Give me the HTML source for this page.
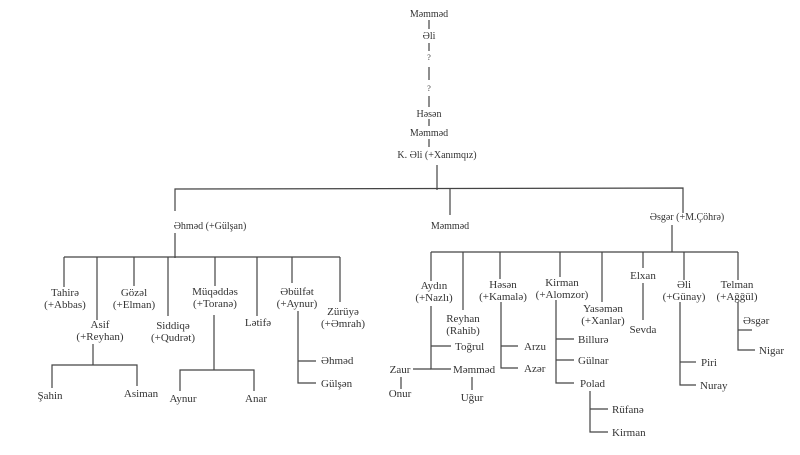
<!DOCTYPE html>
<html><head><meta charset="utf-8"><style>
html,body{margin:0;padding:0;background:#fff;}
svg{display:block}
text{font-family:"Liberation Serif","DejaVu Serif",serif;font-size:11px;fill:#333;}
.m{text-anchor:middle}
line,polyline{stroke:#444;stroke-width:1.2;fill:none}
</style></head><body>
<svg width="800" height="455" viewBox="0 0 800 455" xmlns="http://www.w3.org/2000/svg">
<!-- top chain -->
<text x="429" y="17" class="m" style="font-size:10px">Məmməd</text>
<line x1="429" y1="20" x2="429" y2="29"/>
<text x="429" y="39" class="m" style="font-size:10px">Əli</text>
<line x1="429" y1="43" x2="429" y2="51"/>
<text x="429" y="60" class="m" style="font-size:8px">?</text>
<line x1="429" y1="67" x2="429" y2="80"/>
<text x="429" y="91" class="m" style="font-size:8px">?</text>
<line x1="429" y1="96" x2="429" y2="107"/>
<text x="429" y="117" class="m" style="font-size:10px">Həsən</text>
<line x1="429" y1="119" x2="429" y2="126"/>
<text x="429" y="136" class="m" style="font-size:10px">Məmməd</text>
<line x1="429" y1="139" x2="429" y2="147"/>
<text x="437" y="158" class="m" style="font-size:10px">K. Əli (+Xanımqız)</text>
<line x1="437" y1="165" x2="437" y2="190"/>
<polyline points="175,211 175,189 683,188 683,213"/>
<line x1="450" y1="189" x2="450" y2="215"/>
<text x="210" y="229" class="m" style="font-size:10px">Əhməd (+Gülşan)</text>
<text x="450" y="229" class="m" style="font-size:10px">Məmməd</text>
<text x="687" y="220" class="m" style="font-size:10px">Əsgər (+M.Çöhrə)</text>
<!-- left group -->
<line x1="175" y1="233" x2="175" y2="258"/>
<line x1="64" y1="257" x2="340" y2="257"/>
<line x1="64" y1="257" x2="64" y2="287"/>
<line x1="97" y1="257" x2="97" y2="320"/>
<line x1="134" y1="257" x2="134" y2="286"/>
<line x1="168" y1="257" x2="168" y2="316"/>
<line x1="215" y1="257" x2="215" y2="286"/>
<line x1="257" y1="257" x2="257" y2="316"/>
<line x1="292" y1="257" x2="292" y2="283"/>
<line x1="340" y1="257" x2="340" y2="302"/>
<text x="65" y="296" class="m">Tahirə</text><text x="65" y="308" class="m">(+Abbas)</text>
<text x="100" y="328" class="m">Asif</text><text x="100" y="340" class="m">(+Reyhan)</text>
<text x="134" y="296" class="m">Gözəl</text><text x="134" y="308" class="m">(+Elman)</text>
<text x="173" y="329" class="m">Siddiqə</text><text x="173" y="341" class="m">(+Qudrət)</text>
<text x="215" y="295" class="m">Müqəddəs</text><text x="215" y="307" class="m">(+Toranə)</text>
<text x="258" y="326" class="m">Lətifə</text>
<text x="297" y="295" class="m">Əbülfət</text><text x="297" y="307" class="m">(+Aynur)</text>
<text x="343" y="315" class="m">Zürüyə</text><text x="343" y="327" class="m">(+Əmrah)</text>
<line x1="93" y1="344" x2="93" y2="365"/>
<polyline points="52,388 52,365 137,365 137,386"/>
<text x="50" y="399" class="m">Şahin</text><text x="141" y="397" class="m">Asiman</text>
<line x1="214" y1="315" x2="214" y2="370"/>
<polyline points="180,391 180,370 254,370 254,391"/>
<text x="183" y="402" class="m">Aynur</text><text x="256" y="402" class="m">Anar</text>
<polyline points="298,311 298,383 316,383"/>
<line x1="298" y1="361" x2="316" y2="361"/>
<text x="321" y="364">Əhməd</text><text x="321" y="387">Gülşən</text>
<!-- right group -->
<line x1="672" y1="225" x2="672" y2="252"/>
<line x1="431" y1="252" x2="738" y2="252"/>
<line x1="431" y1="252" x2="431" y2="281"/>
<line x1="463" y1="252" x2="463" y2="310"/>
<line x1="500" y1="252" x2="500" y2="279"/>
<line x1="560" y1="252" x2="560" y2="277"/>
<line x1="602" y1="252" x2="602" y2="302"/>
<line x1="643" y1="252" x2="643" y2="268"/>
<line x1="684" y1="252" x2="684" y2="280"/>
<line x1="738" y1="252" x2="738" y2="280"/>
<text x="434" y="289" class="m">Aydın</text><text x="434" y="301" class="m">(+Nazlı)</text>
<text x="463" y="322" class="m">Reyhan</text><text x="463" y="334" class="m">(Rahib)</text>
<text x="503" y="288" class="m">Həsən</text><text x="503" y="300" class="m">(+Kamalə)</text>
<text x="562" y="286" class="m">Kirman</text><text x="562" y="298" class="m">(+Alomzor)</text>
<text x="603" y="312" class="m">Yasəmən</text><text x="603" y="324" class="m">(+Xanlar)</text>
<text x="643" y="279" class="m">Elxan</text>
<text x="684" y="288" class="m">Əli</text><text x="684" y="300" class="m">(+Günay)</text>
<text x="737" y="288" class="m">Telman</text><text x="737" y="300" class="m">(+Ağğül)</text>
<polyline points="431,306 431,369 451,369"/>
<line x1="431" y1="346" x2="451" y2="346"/>
<line x1="413" y1="369" x2="431" y2="369"/>
<text x="455" y="350">Toğrul</text><text x="453" y="373">Məmməd</text>
<text x="400" y="373" class="m">Zaur</text>
<line x1="401" y1="377" x2="401" y2="389"/>
<text x="400" y="397" class="m">Onur</text>
<line x1="472" y1="377" x2="472" y2="390"/>
<text x="472" y="401" class="m">Uğur</text>
<polyline points="501,302 501,368 518,368"/>
<line x1="501" y1="346" x2="518" y2="346"/>
<text x="524" y="350">Arzu</text><text x="524" y="372">Azər</text>
<polyline points="556,300 556,383 574,383"/>
<line x1="556" y1="339" x2="574" y2="339"/>
<line x1="556" y1="360" x2="574" y2="360"/>
<text x="578" y="343">Billurə</text><text x="578" y="364">Gülnar</text><text x="580" y="387">Polad</text>
<polyline points="590,391 590,432 608,432"/>
<line x1="590" y1="409" x2="608" y2="409"/>
<text x="612" y="413">Rüfanə</text><text x="612" y="436">Kirman</text>
<line x1="643" y1="283" x2="643" y2="320"/>
<text x="643" y="333" class="m">Sevda</text>
<polyline points="680,302 680,385 696,385"/>
<line x1="680" y1="362" x2="696" y2="362"/>
<text x="701" y="366">Piri</text><text x="700" y="389">Nuray</text>
<polyline points="738,302 738,350 755,350"/>
<line x1="738" y1="330" x2="752" y2="330"/>
<text x="743" y="324">Əsgər</text><text x="759" y="354">Nigar</text>
</svg>
</body></html>
